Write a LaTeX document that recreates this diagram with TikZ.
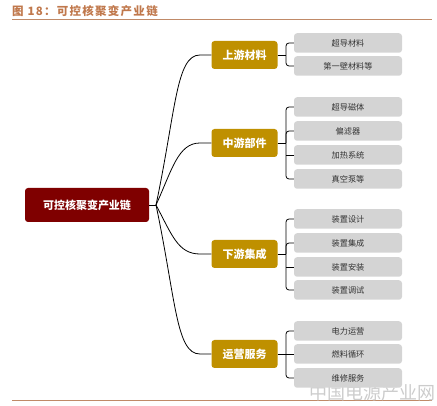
\documentclass[tikz,border=0pt]{standalone}
\usepackage{fontspec}
\setmainfont{Noto Sans CJK SC}
\newfontfamily\cjk{Noto Sans CJK SC}
\newfontfamily\titlefont[LetterSpace=11]{Noto Sans CJK SC}
\usetikzlibrary{positioning}
\definecolor{rootred}{HTML}{7F0000}
\definecolor{gold}{HTML}{BF9000}
\definecolor{lgray}{HTML}{D4D4D4}
\definecolor{titlec}{HTML}{C0784C}
\definecolor{rulec}{HTML}{C08A68}
\tikzset{
  rootbox/.style={fill=rootred, rounded corners=3pt, minimum width=124pt, minimum height=34pt, text=white, font=\cjk\bfseries\fontsize{11}{12}\selectfont, inner sep=0pt},
  midbox/.style={fill=gold, rounded corners=3pt, minimum width=66pt, minimum height=28pt, text=white, font=\cjk\bfseries\fontsize{11}{12}\selectfont, inner sep=0pt},
  leafbox/.style={fill=lgray, rounded corners=3pt, minimum width=108pt, minimum height=19.5pt, text=black!80, font=\cjk\fontsize{8.2}{9}\selectfont, inner sep=0pt},
  conn/.style={draw=black, line width=0.8pt},
  bracket/.style={conn, rounded corners=3pt},
}
\begin{document}
\begin{tikzpicture}[x=1pt,y=-1pt]
\useasboundingbox (0,0) rectangle (437,406);
% title
\node[anchor=west, text=titlec, font=\titlefont\bfseries\fontsize{11.5}{12}\selectfont, inner sep=0pt] (title) at (12,11) {图 18：可控核聚变产业链};
\draw[rulec, line width=1pt] (12,20) -- (432,20);
% bottom rule and watermark
\draw[rulec, line width=1pt] (12,401) -- (432,401);
\node[anchor=east, text=gray!40, font=\cjk\fontsize{18}{18}\selectfont, inner sep=0pt] (wm) at (436,393) {中国电源产业网};

% root
\node[rootbox] (r) at (87,205) {可控核聚变产业链};
\coordinate (j) at (156,205);
\draw[conn] (r.east) -- (j);

% level 1
\node[midbox] (a1) at (244.5,55) {上游材料};
\node[midbox] (a2) at (244.5,143) {中游部件};
\node[midbox] (a3) at (244.5,254) {下游集成};
\node[midbox] (a4) at (244.5,354) {运营服务};

\draw[conn] (j) .. controls (176,110) and (176,55) .. (200,55) -- (a1.west);
\draw[conn] (j) .. controls (172,170) and (178,143) .. (200,143) -- (a2.west);
\draw[conn] (j) .. controls (172,235) and (178,254) .. (200,254) -- (a3.west);
\draw[conn] (j) .. controls (176,300) and (176,354) .. (200,354) -- (a4.west);

% level 2
\node[leafbox] (b11) at (348,43) {超导材料};
\node[leafbox] (b12) at (348,66) {第一壁材料等};

\node[leafbox] (b21) at (348,107) {超导磁体};
\node[leafbox] (b22) at (348,131) {偏滤器};
\node[leafbox] (b23) at (348,155) {加热系统};
\node[leafbox] (b24) at (348,179) {真空泵等};

\node[leafbox] (b31) at (348,219) {装置设计};
\node[leafbox] (b32) at (348,243) {装置集成};
\node[leafbox] (b33) at (348,267) {装置安装};
\node[leafbox] (b34) at (348,290) {装置调试};

\node[leafbox] (b41) at (348,331) {电力运营};
\node[leafbox] (b42) at (348,354) {燃料循环};
\node[leafbox] (b43) at (348,378) {维修服务};

% brackets
\coordinate (k1) at (286,55);
\draw[conn] (a1.east) -- (k1);
\draw[bracket] (b11.west) -| (k1) |- (b12.west);

\coordinate (k2) at (286,143);
\draw[conn] (a2.east) -- (k2);
\draw[bracket] (b21.west) -| (k2) |- (b24.west);
\draw[bracket] (b22.west) -| (k2);
\draw[conn] (k2 |- b23.west) -- (b23.west);

\coordinate (k3) at (286,254);
\draw[conn] (a3.east) -- (k3);
\draw[bracket] (b31.west) -| (k3) |- (b34.west);
\draw[bracket] (b32.west) -| (k3);
\draw[conn] (k3 |- b33.west) -- (b33.west);

\coordinate (k4) at (286,354);
\draw[conn] (a4.east) -- (k4);
\draw[bracket] (b41.west) -| (k4) |- (b43.west);
\draw[conn] (k4 |- b42.west) -- (b42.west);
\end{tikzpicture}
\end{document}
